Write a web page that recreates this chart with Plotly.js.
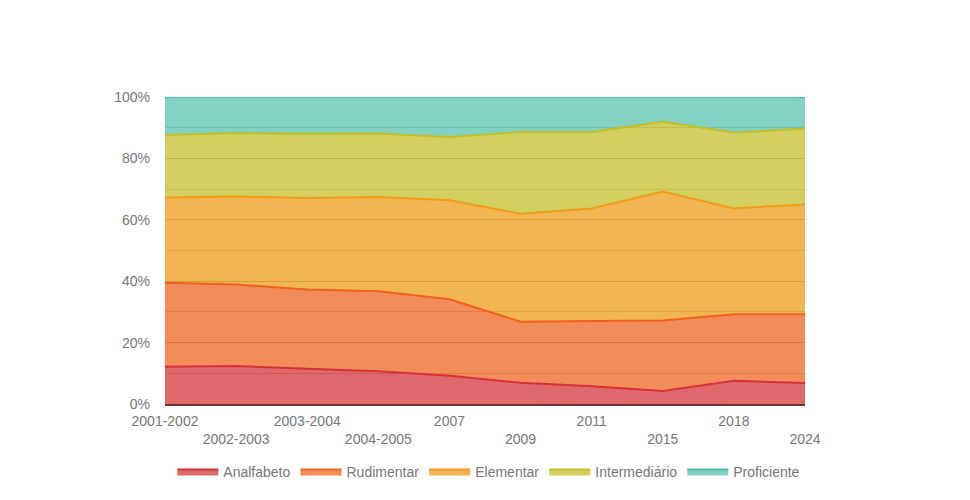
<!DOCTYPE html>
<html>
<head>
<meta charset="utf-8">
<script src="https://cdn.plot.ly/plotly-3.0.1.min.js"></script>
<style>html,body{margin:0;padding:0;background:#fff;}#chart{width:970px;height:500px;}</style>
</head>
<body>
<div id="chart"></div>
<script>
const categories = ["2001-2002","2002-2003","2003-2004","2004-2005","2007","2009","2011","2015","2018","2024"];
const analfabeto   = [12.1, 12.4, 11.5, 10.7,  9.2,  6.9,  5.8,  4.2,  7.6,  6.8];
const rudimentar   = [27.4, 26.5, 25.8, 26.0, 24.9, 19.9, 21.2, 23.0, 21.6, 22.4];
const elementar    = [27.8, 28.7, 29.8, 30.7, 32.3, 35.2, 36.7, 42.0, 34.5, 35.8];
const intermediario= [20.3, 20.7, 20.9, 20.7, 20.6, 26.6, 24.9, 22.7, 24.7, 24.7];
const proficiente  = [12.4, 11.7, 12.0, 11.9, 13.0, 11.4, 11.4,  8.1, 11.6, 10.3];
const seriesNames = ["Analfabeto","Rudimentar","Elementar","Intermediário","Proficiente"];
const yTicks = [0,20,40,60,80,100];

const allSeries = [analfabeto, rudimentar, elementar, intermediario, proficiente];
const lineColors = ["rgb(212,50,55)","rgb(238,100,30)","rgb(239,156,26)","rgb(195,190,40)","rgb(75,192,165)"];
const fillColors = ["rgba(212,54,60,0.75)","rgba(238,103,35,0.75)","rgba(239,156,26,0.75)","rgba(195,191,43,0.75)","rgba(88,195,175,0.75)"];

const traces = allSeries.map((vals,i)=>({
  type:'scatter', mode:'lines', x:categories, y:vals, name:seriesNames[i],
  stackgroup:'one', line:{color:lineColors[i], width:2}, fillcolor:fillColors[i],
  hoverinfo:'x+y+name'
}));

const tickText = categories.map((c,i)=> i%2===0 ? c : '<br>'+c);

const layout = {
  width:970, height:500,
  margin:{l:165, r:165, t:97, b:96, autoexpand:false},
  paper_bgcolor:'#fff', plot_bgcolor:'#fff',
  font:{family:'"Liberation Sans", Arial, sans-serif', size:14, color:'#777'},
  showlegend:true,
  legend:{orientation:'h', x:0.506, xanchor:'center', yref:'container', y:0.056, yanchor:'middle',
          font:{size:14, color:'#777'}, traceorder:'normal', itemwidth:41},
  xaxis:{type:'category', tickmode:'array', tickvals:categories, ticktext:tickText,
         range:[0,categories.length-1], showgrid:false, zeroline:false,
         showline:true, linecolor:'#7a3030', linewidth:1.5, ticks:'', ticklen:0,
         ticklabelstandoff:3,
         tickangle:0, tickfont:{size:14, color:'#777'}, automargin:false},
  yaxis:{range:[0,100], tickmode:'array', tickvals:yTicks, ticktext:yTicks.map(v=>v+'%'),
         showgrid:true, gridcolor:'#999', gridwidth:1, zeroline:false, showline:false,
         minor:{dtick:10, tick0:0, showgrid:true, gridcolor:'#bbb', gridwidth:1},
         ticklabelstandoff:14,
         tickfont:{size:14, color:'#777'}, ticks:'', ticklen:0, automargin:false}
};

Plotly.newPlot('chart', traces, layout, {displayModeBar:false, responsive:false});
</script>
</body>
</html>
